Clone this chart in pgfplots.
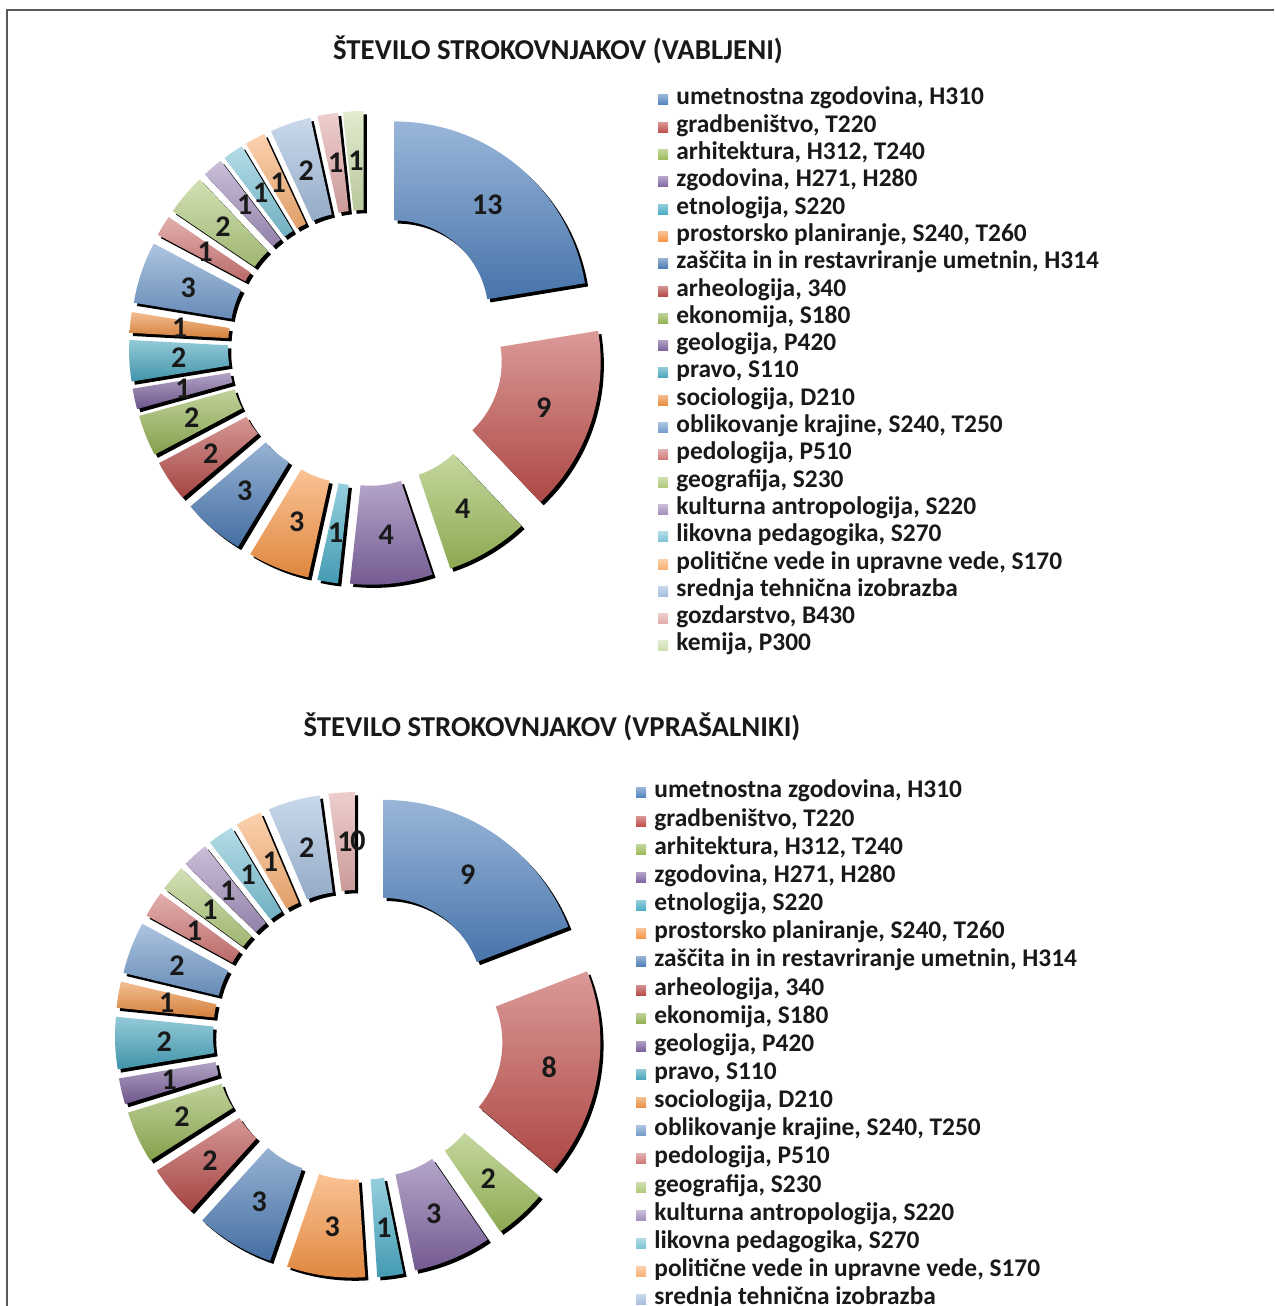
\documentclass[border=0pt]{standalone}
\usepackage{fontspec}
\setmainfont{Carlito}
\usepackage{pgfplots}
\usepackage{pgfplotstable}
\pgfplotsset{compat=1.18}

% Excel 2007 palette, four rounds
\definecolor{s0}{HTML}{4F81BD}
\definecolor{s1}{HTML}{C0504D}
\definecolor{s2}{HTML}{9BBB59}
\definecolor{s3}{HTML}{8064A2}
\definecolor{s4}{HTML}{4BACC6}
\definecolor{s5}{HTML}{F79646}
\colorlet{s6}{s0!95!black}
\colorlet{s7}{s1!95!black}
\colorlet{s8}{s2!95!black}
\colorlet{s9}{s3!95!black}
\colorlet{s10}{s4!95!black}
\colorlet{s11}{s5!95!black}
\colorlet{s12}{s0!80!white}
\colorlet{s13}{s1!78!white}
\colorlet{s14}{s2!78!white}
\colorlet{s15}{s3!72!white}
\colorlet{s16}{s4!72!white}
\colorlet{s17}{s5!75!white}
\colorlet{s18}{s0!52!white}
\colorlet{s19}{s1!48!white}
\colorlet{s20}{s2!50!white}

\pgfplotstableread[col sep=semicolon]{
val;name
13;umetnostna zgodovina, H310
9;gradbeništvo, T220
4;arhitektura, H312, T240
4;zgodovina, H271, H280
1;etnologija, S220
3;prostorsko planiranje, S240, T260
3;zaščita in in restavriranje umetnin, H314
2;arheologija, 340
2;ekonomija, S180
1;geologija, P420
2;pravo, S110
1;sociologija, D210
3;oblikovanje krajine, S240, T250
1;pedologija, P510
2;geografija, S230
1;kulturna antropologija, S220
1;likovna pedagogika, S270
1;politične vede in upravne vede, S170
2;srednja tehnična izobrazba
1;gozdarstvo, B430
1;kemija, P300
}\vabljeni

\pgfplotstableread{
val
9
8
2
3
1
3
3
2
2
1
2
1
2
1
1
1
1
1
2
1
0
}\vprasalniki

% #1 table, #2 cx, #3 cy, #4 inner r, #5 outer r, #6 explosion (all in px)
\newcommand\drawdonut[6]{%
  \pgfplotstablegetrowsof{#1}%
  \pgfmathtruncatemacro\nlast{\pgfplotsretval-1}%
  \def\tot{0}%
  \pgfplotsforeachungrouped \i in {0,...,\nlast}{%
    \pgfplotstablegetelem{\i}{val}\of{#1}%
    \pgfmathsetmacro\tot{\tot+\pgfplotsretval}%
  }%
  \def\cum{0}%
  \pgfplotsforeachungrouped \i in {0,...,\nlast}{%
    \pgfplotstablegetelem{\i}{val}\of{#1}%
    \let\v\pgfplotsretval
    \pgfmathsetmacro\aA{90-360*(\cum/\tot)}%
    \pgfmathsetmacro\aB{90-360*((\cum+\v)/\tot)}%
    \pgfmathsetmacro\am{(\aA+\aB)/2}%
    \pgfmathsetmacro\ox{#2+#6*cos(\am)}%
    \pgfmathsetmacro\oy{#3+#6*sin(\am)}%
    \pgfmathsetmacro\pAx{\ox+#5*cos(\aA)}%
    \pgfmathsetmacro\pAy{\oy+#5*sin(\aA)}%
    \pgfmathsetmacro\pBx{\ox+#4*cos(\aB)}%
    \pgfmathsetmacro\pBy{\oy+#4*sin(\aB)}%
    \pgfmathsetmacro\lx{\ox+0.5*(#4+#5)*cos(\am)}%
    \pgfmathsetmacro\ly{\oy+0.5*(#4+#5)*sin(\am)}%
    \pgfmathsetmacro\rO{#5*0.5}%
    \pgfmathsetmacro\rI{#4*0.5}%
    \pgfmathtruncatemacro\iv{\v}%
    \ifnum\iv>0
      \edef\temp{%
        \noexpand\fill[black,xshift=1.6pt,yshift=-1.6pt] (axis cs:\pAx,\pAy)
          arc[start angle=\aA,end angle=\aB,radius=\rO pt] -- (axis cs:\pBx,\pBy)
          arc[start angle=\aB,end angle=\aA,radius=\rI pt] -- cycle;
        \noexpand\shade[top color=s\i!58!white,bottom color=s\i!90!black] (axis cs:\pAx,\pAy)
          arc[start angle=\aA,end angle=\aB,radius=\rO pt] -- (axis cs:\pBx,\pBy)
          arc[start angle=\aB,end angle=\aA,radius=\rI pt] -- cycle;
      }\temp
    \fi
    \edef\temp{\noexpand\node[lab] at (axis cs:\lx,\ly) {\iv};}\temp
    \pgfmathsetmacro\cum{\cum+\v}%
  }%
}

% #1 marker x, #2 first row y (px from top), #3 row step, #4 last row
\newcommand\drawlegend[4]{%
  \pgfplotsforeachungrouped \i in {0,...,#4}{%
    \pgfplotstablegetelem{\i}{name}\of{\vabljeni}%
    \pgfmathsetmacro\yc{1306-#2-#3*\i}%
    \pgfmathsetmacro\ya{\yc-8}%
    \pgfmathsetmacro\yb{\yc+2}%
    \pgfmathsetmacro\xa{#1-5}%
    \pgfmathsetmacro\xb{#1+5}%
    \pgfmathsetmacro\xt{#1+13}%
    \edef\temp{%
      \noexpand\shade[top color=s\i!60!white,bottom color=s\i] (axis cs:\xa,\ya) rectangle (axis cs:\xb,\yb);
      \noexpand\node[leg] at (axis cs:\xt,\ya) {\pgfplotsretval};
    }\temp
  }%
}

\begin{document}
\begin{tikzpicture}[
  lab/.style={font=\fontsize{15}{15}\selectfont\bfseries, inner sep=0pt, text=black!90},
  leg/.style={font=\fontsize{12.7}{14}\selectfont\bfseries, anchor=base west, inner sep=0pt, text=black!90},
  ttl/.style={font=\fontsize{14.4}{16}\selectfont\bfseries, inner sep=0pt, text=black!90}]
\useasboundingbox (0,0) rectangle (637pt,653pt);
\clip (0,0) rectangle (637pt,653pt);
\begin{axis}[
  at={(0,0)}, anchor=south west,
  x=0.5pt, y=0.5pt,
  xmin=0, xmax=1274, ymin=0, ymax=1306,
  hide axis, clip=false]

\draw[black!65, line width=1.1pt] (axis cs:7,0) -- (axis cs:7,1296) -- (axis cs:1274,1296);

\node[ttl] at (axis cs:558,1256) {ŠTEVILO STROKOVNJAKOV (VABLJENI)};
\drawdonut{\vabljeni}{366}{958}{94}{193}{44}
\drawlegend{663}{97}{27.3}{20}

\node[ttl] at (axis cs:552,579) {ŠTEVILO STROKOVNJAKOV (VPRAŠALNIKI)};
\drawdonut{\vprasalniki}{358}{271}{100}{198}{45}
\drawlegend{641}{790}{28.15}{20}

\end{axis}
\end{tikzpicture}
\end{document}
